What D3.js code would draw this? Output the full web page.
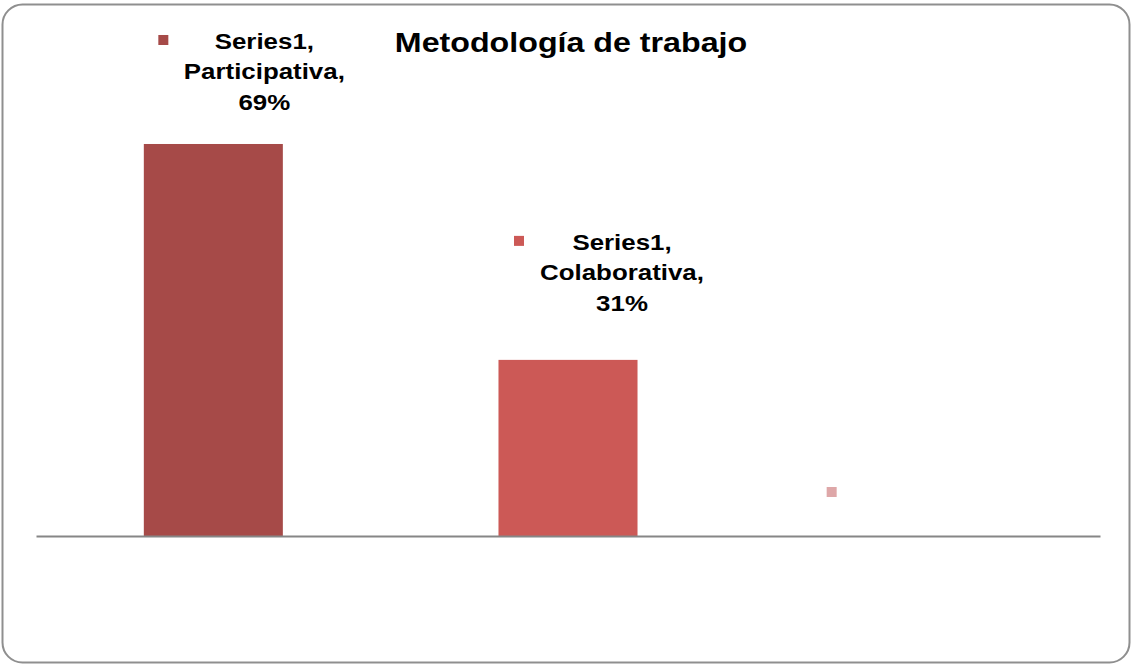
<!DOCTYPE html>
<html>
<head>
<meta charset="utf-8">
<script src="https://cdn.jsdelivr.net/npm/d3@7"></script>
<style>
  html, body { margin: 0; padding: 0; background: #fff; }
  svg { display: block; }
  text { font-family: "Liberation Sans", Arial, sans-serif; font-weight: bold; fill: #000; }
</style>
</head>
<body>
<svg id="chart" width="1131" height="664"></svg>
<script>
// ---- data ----
const title = "Metodología de trabajo";
const seriesName = "Series1";
const categories = ["Participativa", "Colaborativa", ""];
const values = [0.69, 0.31, null];

// ---- style / layout ----
const barColors = ["#A64A48", "#CC5956", "#DEA7A8"];
const labelBottomOffset = [34, 49, 44]; // px above bar top for label block bottom
const markerDx = [-50, -49, -91];
const textDx = [51, 54, 0];
const xStretch = 1.13;

const svg = d3.select("#chart");

// frame
svg.append("rect")
  .attr("x", 2.5).attr("y", 4.5)
  .attr("width", 1127).attr("height", 658)
  .attr("rx", 20).attr("ry", 20)
  .attr("fill", "#fff")
  .attr("stroke", "#8f8f8f")
  .attr("stroke-width", 2);

const x = d3.scaleBand()
  .domain(d3.range(categories.length))
  .range([36, 1100])
  .paddingInner(0.608)
  .paddingOuter(0.304);

const y = d3.scaleLinear().domain([0, 0.8]).range([536, 81.5]);

// bars
svg.append("g").selectAll("rect")
  .data(values.map((v, i) => ({ v, i })).filter(d => d.v != null))
  .join("rect")
  .attr("x", d => x(d.i))
  .attr("y", d => y(d.v))
  .attr("width", x.bandwidth())
  .attr("height", d => y(0) - y(d.v))
  .attr("fill", d => barColors[d.i]);

// axis line
const axis = d3.axisBottom(x).tickSize(0).tickFormat(() => "");
const axG = svg.append("g").attr("transform", `translate(0,${y(0)})`).call(axis);
axG.select(".domain").attr("stroke", "#868686").attr("stroke-width", 2.2);
axG.selectAll(".tick").remove();

// title
svg.append("text")
  .attr("transform", `translate(571,52) scale(${xStretch},1)`)
  .attr("text-anchor", "middle")
  .attr("font-size", 28.5)
  .text(title);

// data labels
categories.forEach((c, i) => {
  const cx = x(i) + x.bandwidth() / 2;
  const v = values[i];
  const base = y(v == null ? 0 : v) - labelBottomOffset[i];
  const lines = v == null ? [] : [seriesName + ",", c + ",", d3.format(".0%")(v)];
  const lh = 30.5;
  const firstBaseline = lines.length ? base - (lines.length - 1) * lh : base;
  lines.forEach((t, k) => {
    svg.append("text")
      .attr("transform", `translate(${cx + textDx[i]},${firstBaseline + k * lh}) scale(1.15,1)`)
      .attr("text-anchor", "middle")
      .attr("font-size", 22.5)
      .text(t);
  });
  const my = lines.length ? firstBaseline - 9 : base;
  svg.append("rect")
    .attr("x", cx + markerDx[i] - 5)
    .attr("y", my - 5)
    .attr("width", 10).attr("height", 10)
    .attr("fill", barColors[i]);
});
</script>
</body>
</html>
